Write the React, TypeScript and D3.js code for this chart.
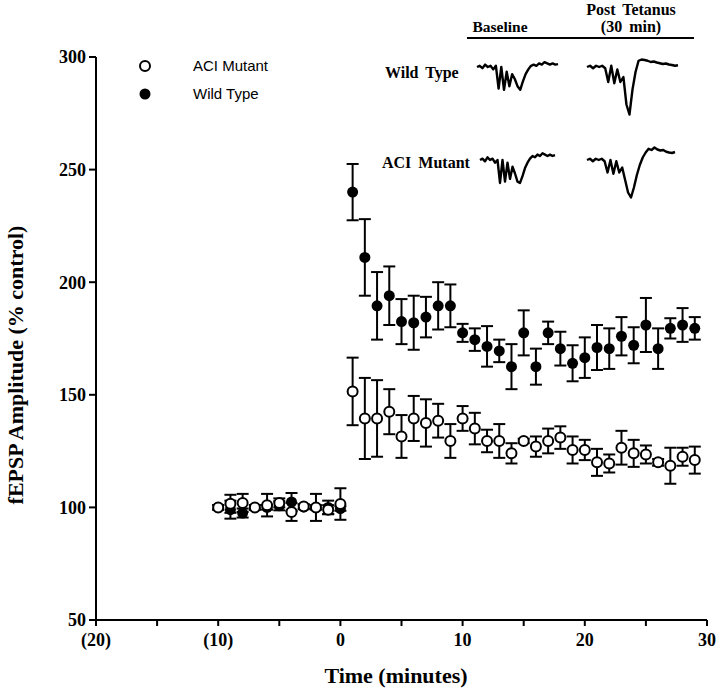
import * as d3 from "d3";

// baseline period (minutes before tetanus)
const baseTimes = [-10, -9, -8, -7, -6, -5, -4, -3, -2, -1, 0];
const wtBase = [100, 99, 97.5, 100, 100, 100.7, 102.4, 100.2, 100, 100, 99.5];
const wtBaseErr = [1, 4, 2, 1, 1, 2, 4, 1, 1, 3, 1];
const aciBase = [100, 101.6, 102, 100, 101, 102, 98, 100.4, 100, 99, 101.5];
const aciBaseErr = [1, 4, 4, 1, 5, 2, 4, 1, 6, 2, 7];

// after tetanus
const postTimes = [1, 2, 3, 4, 5, 6, 7, 8, 9, 10, 11, 12, 13, 14, 15, 16, 17, 18, 19, 20, 21, 22, 23, 24, 25, 26, 27, 28, 29];
const wtPost = [240, 211, 189.5, 194, 182.5, 182, 184.5, 189.5, 189.5, 177.5, 174.5, 171.5, 169.5, 162.5, 177.5, 162.5, 177.5, 170.5, 164, 166.5, 171, 170.5, 176, 172, 181, 170.5, 179.5, 181, 179.5];
const wtPostErr = [12.5, 17, 15, 13, 10, 12, 9, 10.5, 9.5, 4, 5, 9, 5, 10, 10, 8, 5, 7.5, 8, 9, 10, 9, 8.5, 8, 12, 9, 4.5, 7.5, 5];
const aciPost = [151.5, 139.5, 139.5, 142.5, 131.5, 139.5, 137.5, 138.5, 129.5, 139.5, 135, 129.5, 129.5, 124, 129.5, 127, 129.5, 131, 125.5, 125.5, 120, 119.5, 126.5, 124, 123.5, 120, 118.5, 122.5, 121];
const aciPostErr = [15, 18, 17, 10, 9.5, 10, 10.5, 7.5, 7.5, 5.5, 7, 5, 7.5, 4.5, 1, 4.5, 5.5, 5, 6, 4.5, 6, 4, 7.5, 6, 4, 1.5, 8, 4, 6];

const xTicks = [-20, -10, 0, 10, 20, 30];
const xMinor = [-15, -5, 5, 15, 25];
const yTicks = [50, 100, 150, 200, 250, 300];

// sample field potential traces (relative amplitude, 0 = rest, negative = down)
const wtBaseTrace = [0, 0.05, -0.05, 0.1, 0, 0.05, -0.1, 0.05, -0.9, 0, -0.95, -0.2, -0.8, -0.3, -0.5, -0.8, -0.95, -0.6, -0.3, -0.1, 0.05, 0.1, 0.05, 0.15, 0.1, 0.2, 0.15, 0.1, 0.15, 0.1, 0.12];
const wtPostTrace = [0, 0.05, -0.05, 0.05, 0, 0.05, -0.05, -0.6, 0.05, -0.65, -0.1, -0.6, -0.4, -1.5, -1.9, -0.9, -0.2, 0.25, 0.3, 0.28, 0.25, 0.2, 0.22, 0.18, 0.15, 0.12, 0.14, 0.1, 0.08, 0.05, 0.07];
const aciBaseTrace = [0, 0.05, -0.05, 0.1, 0, 0.05, -0.1, 0, -0.85, 0, -0.8, -0.1, -0.7, -0.25, -0.5, -0.8, -0.85, -0.6, -0.3, -0.1, 0.05, 0.15, 0.1, 0.2, 0.15, 0.25, 0.2, 0.15, 0.2, 0.15, 0.18];
const aciPostTrace = [0, 0.05, -0.05, 0.05, 0, 0.05, -0.05, -0.5, 0, -0.55, -0.05, -0.5, -0.3, -0.8, -1.3, -1.5, -1.1, -0.6, -0.2, 0.1, 0.3, 0.45, 0.4, 0.5, 0.42, 0.38, 0.4, 0.33, 0.3, 0.28, 0.32];

const W = 720;
const H = 691;
const x = d3.scaleLinear().domain([-20, 30]).range([96, 707]);
const y = d3.scaleLinear().domain([50, 300]).range([620, 57]);

const serif = "'Liberation Serif', 'Times New Roman', serif";
const sans = "'Liberation Sans', Arial, sans-serif";

type Pt = { t: number; v: number; e: number };
const zip = (ts: number[], vs: number[], es: number[]): Pt[] =>
  ts.map((t, i) => ({ t, v: vs[i], e: es[i] }));

const wtData = zip(baseTimes, wtBase, wtBaseErr).concat(zip(postTimes, wtPost, wtPostErr));
const aciData = zip(baseTimes, aciBase, aciBaseErr).concat(zip(postTimes, aciPost, aciPostErr));

function ErrorBars({ data }: { data: Pt[] }) {
  const cap = 6;
  return (
    <g stroke="#000" strokeWidth={2}>
      {data.map((d, i) => {
        const cx = x(d.t);
        const top = y(d.v + d.e);
        const bot = y(d.v - d.e);
        return (
          <g key={i}>
            <line x1={cx} x2={cx} y1={top} y2={bot} />
            <line x1={cx - cap} x2={cx + cap} y1={top} y2={top} />
            <line x1={cx - cap} x2={cx + cap} y1={bot} y2={bot} />
          </g>
        );
      })}
    </g>
  );
}

function Trace({ data, x0, x1, yRest, gain }: { data: number[]; x0: number; x1: number; yRest: number; gain: number }) {
  const tx = d3.scaleLinear().domain([0, data.length - 1]).range([x0, x1]);
  const ty = d3.scaleLinear().domain([0, -1]).range([yRest, yRest + gain]);
  const line = d3
    .line<number>()
    .x((_, i) => tx(i))
    .y((v) => ty(v));
  return <path d={line(data) || ""} fill="none" stroke="#000" strokeWidth={2.4} strokeLinejoin="round" />;
}

export default function App() {
  return (
    <svg width={W} height={H} style={{ position: "absolute", left: 0, top: 0, background: "#fff" }}>
      {/* axes */}
      <g stroke="#000" strokeWidth={2}>
        <line x1={x(-20)} x2={x(-20)} y1={y(300)} y2={y(50)} />
        <line x1={x(-20)} x2={x(30)} y1={y(50)} y2={y(50)} />
        {yTicks.map((t) => (
          <line key={t} x1={x(-20) - 7} x2={x(-20)} y1={y(t)} y2={y(t)} />
        ))}
        {xTicks.concat(xMinor).map((t) => (
          <line key={t} x1={x(t)} x2={x(t)} y1={y(50)} y2={y(50) + 6} />
        ))}
      </g>
      <g fontFamily={serif} fontWeight="bold" fontSize={18} fill="#000">
        {yTicks.map((t) => (
          <text key={t} x={x(-20) - 10} y={y(t)} dy="0.35em" textAnchor="end">
            {t}
          </text>
        ))}
        {xTicks.map((t) => (
          <text key={t} x={x(t)} y={y(50) + 26} textAnchor="middle">
            {t < 0 ? `(${-t})` : t}
          </text>
        ))}
      </g>
      <text x={396} y={683} fontFamily={serif} fontWeight="bold" fontSize={22} textAnchor="middle">
        Time (minutes)
      </text>
      <text
        transform="translate(23, 365) rotate(-90)"
        fontFamily={serif}
        fontWeight="bold"
        fontSize={22}
        textAnchor="middle"
      >
        fEPSP Amplitude (% control)
      </text>

      {/* data */}
      <ErrorBars data={wtData} />
      <ErrorBars data={aciData} />
      <g>
        {wtData.map((d, i) => (
          <circle key={i} cx={x(d.t)} cy={y(d.v)} r={5.5} fill="#000" />
        ))}
      </g>
      <g>
        {aciData.map((d, i) => (
          <circle key={i} cx={x(d.t)} cy={y(d.v)} r={5} fill="#fff" stroke="#000" strokeWidth={2} />
        ))}
      </g>

      {/* legend */}
      <circle cx={145} cy={66} r={5} fill="#fff" stroke="#000" strokeWidth={2} />
      <text x={193} y={71} fontFamily={sans} fontSize={15}>ACI Mutant</text>
      <circle cx={145} cy={94} r={5.5} fill="#000" />
      <text x={193} y={99} fontFamily={sans} fontSize={15}>Wild Type</text>

      {/* inset traces */}
      <g fontFamily={serif} fontWeight="bold" wordSpacing={3}>
        <text x={631} y={15} fontSize={16} textAnchor="middle">Post Tetanus</text>
        <text x={631} y={32} fontSize={16} textAnchor="middle">(30 min)</text>
        <text x={500} y={32} fontSize={15.5} textAnchor="middle">Baseline</text>
        <text x={385} y={78} fontSize={16}>Wild Type</text>
        <text x={382} y={168} fontSize={16}>ACI Mutant</text>
      </g>
      <line x1={467} x2={694} y1={38} y2={38} stroke="#000" strokeWidth={2} />
      <Trace data={wtBaseTrace} x0={477} x1={558} yRest={67} gain={24} />
      <Trace data={wtPostTrace} x0={587} x1={678} yRest={67} gain={25} />
      <Trace data={aciBaseTrace} x0={480} x1={555} yRest={160} gain={27} />
      <Trace data={aciPostTrace} x0={587} x1={675} yRest={160} gain={25} />
    </svg>
  );
}
